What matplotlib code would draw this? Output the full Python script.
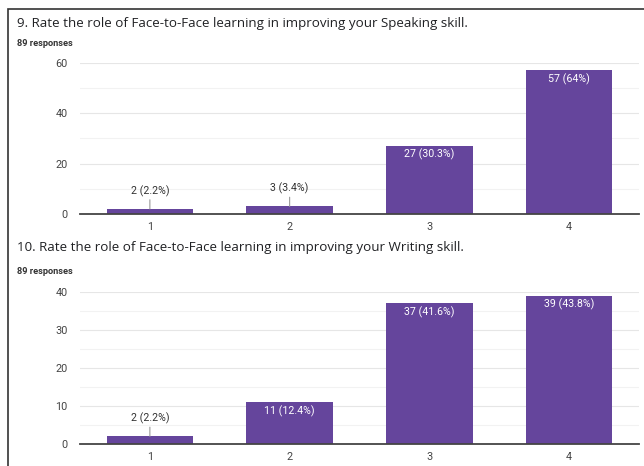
import matplotlib.pyplot as plt
from matplotlib.patches import Rectangle

categories = ["1", "2", "3", "4"]
speaking = [2, 3, 27, 57]
speaking_pct = ["2.2%", "3.4%", "30.3%", "64%"]
writing = [2, 11, 37, 39]
writing_pct = ["2.2%", "12.4%", "41.6%", "43.8%"]

title_top = "9. Rate the role of Face-to-Face learning in improving your Speaking skill."
title_bottom = "10. Rate the role of Face-to-Face learning in improving your Writing skill."
responses = "89 responses"

purple = "#65459c"
W, H = 644, 466

fig = plt.figure(figsize=(W / 100, H / 100), dpi=100)
fig.patch.set_facecolor("white")

# outer frame of the screenshot
fig.patches.append(Rectangle((8 / W, -0.1), 1.2, 1 - 9 / H + 0.1, transform=fig.transFigure,
                             fill=False, edgecolor="#333333", linewidth=1.2))


def px_axes(left, top, right, bottom):
    return fig.add_axes([left / W, 1 - bottom / H, (right - left) / W, (bottom - top) / H])


def draw(ax, vals, pcts, ymax, step, minor):
    x = range(len(categories))
    ax.bar(x, vals, width=0.62, color=purple, zorder=3)
    ax.set_xlim(-0.5, len(categories) - 0.5)
    ax.set_ylim(0, ymax)
    ax.set_yticks(range(0, ymax + 1, step))
    ax.set_yticks(range(minor, ymax, step), minor=True)
    ax.set_xticks(list(x))
    ax.set_xticklabels(categories)
    ax.grid(axis="y", which="major", color="#e6e6e6", linewidth=0.8, zorder=0)
    ax.grid(axis="y", which="minor", color="#f2f2f2", linewidth=0.8, zorder=0)
    for s in ["top", "right", "left"]:
        ax.spines[s].set_visible(False)
    ax.spines["bottom"].set_color("#444444")
    ax.spines["bottom"].set_linewidth(1.3)
    ax.spines["bottom"].set_zorder(4)
    ax.tick_params(which="both", length=0, labelsize=7.8, labelcolor="#444444", pad=6)
    ax.tick_params(axis="y", pad=9)
    for lab in ax.get_xticklabels() + ax.get_yticklabels():
        lab.set_family("Roboto")
    for i, (v, p) in enumerate(zip(vals, pcts)):
        txt = f"{v} ({p})"
        if v / ymax < 0.15:
            ax.annotate(txt, xy=(i, v), xytext=(0, 12), textcoords="offset pixels",
                        ha="center", va="bottom", fontsize=7.7, color="#333333",
                        family="Roboto",
                        arrowprops=dict(arrowstyle="-", color="#999999", lw=0.8,
                                        shrinkA=0, shrinkB=0))
        else:
            ax.annotate(txt, xy=(i, v), xytext=(0, -3), textcoords="offset pixels",
                        ha="center", va="top", fontsize=7.7, color="white",
                        family="Roboto")


ax1 = px_axes(80, 62.7, 639, 214)
draw(ax1, speaking, speaking_pct, 60, 20, 10)
ax2 = px_axes(80, 291.7, 639, 444)
draw(ax2, writing, writing_pct, 40, 10, 5)

fig.text(17 / W, 1 - 27 / H, title_top, fontsize=9.6, family="Open Sans",
         color="#202124", va="baseline")
fig.text(17 / W, 1 - 43 / H, responses, fontsize=6.7, family="Roboto", weight="bold",
         color="#333333", va="center")
fig.text(17 / W, 1 - 251 / H, title_bottom, fontsize=9.6, family="Open Sans",
         color="#202124", va="baseline")
fig.text(17 / W, 1 - 271 / H, responses, fontsize=6.7, family="Roboto", weight="bold",
         color="#333333", va="center")

fig.savefig("out.png", dpi=100)
